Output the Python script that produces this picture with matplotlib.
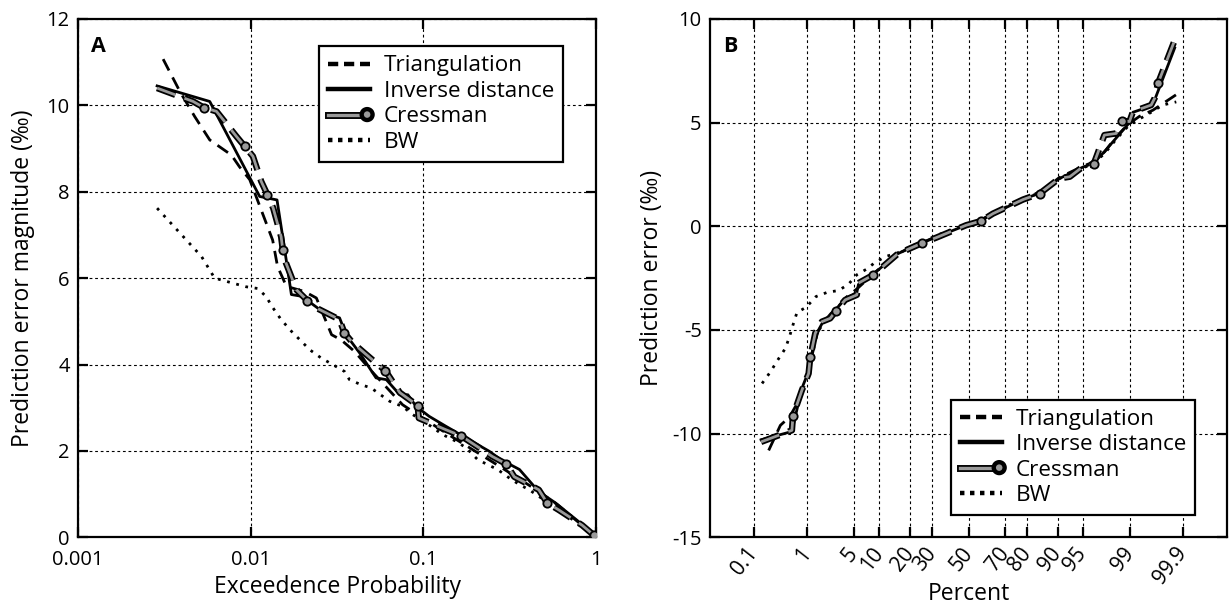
import math

import matplotlib

matplotlib.use("Agg")
import matplotlib.pyplot as plt
import matplotlib.patheffects as pe
import numpy as np
from matplotlib.legend_handler import HandlerLine2DCompound
from matplotlib.lines import Line2D
from matplotlib.ticker import FixedLocator, NullLocator, FixedFormatter

plt.rcParams["font.family"] = ["Open Sans", "DejaVu Sans"]
plt.rcParams["axes.unicode_minus"] = False

# ---- panel A: error magnitude vs exceedence probability ----
A_TRI_P = [0.00311, 0.00389, 0.00474, 0.00579, 0.00773, 0.0086, 0.00987, 0.0115, 0.0134,
           0.0143, 0.0161, 0.0205, 0.024, 0.0294, 0.0334, 0.04, 0.05, 0.0757, 0.1, 0.15,
           0.25, 0.3, 0.45, 0.6, 0.97]
A_TRI_Y = [11.07, 10.32, 9.74, 9.2, 8.85, 8.58, 8.28, 7.58, 6.88, 6.27, 5.81, 5.69, 5.54,
           4.69, 4.57, 4.3, 3.85, 3.07, 2.75, 2.3, 1.75, 1.55, 1.1, 0.75, 0.05]

A_IDW_P = [0.00287, 0.00579, 0.01127, 0.0142, 0.01573, 0.0172, 0.0197, 0.0210, 0.0268,
           0.0327, 0.0342, 0.038, 0.0427, 0.0532, 0.061, 0.073, 0.0813, 0.0908, 0.108,
           0.135, 0.184, 0.241, 0.28, 0.36, 0.465, 0.58, 0.93, 0.97]
A_IDW_Y = [10.45, 10.09, 7.89, 7.81, 6.66, 5.62, 5.58, 5.50, 5.19, 5.08, 4.88, 4.54, 4.27,
           3.69, 3.65, 3.30, 3.30, 3.03, 2.80, 2.57, 2.26, 1.99, 1.80, 1.57, 1.06, 0.80,
           0.14, 0.05]

A_CRE_P = [0.00287, 0.00464, 0.00535, 0.00634, 0.00827, 0.00923, 0.0103, 0.0115, 0.0125,
           0.0135, 0.0150, 0.01535, 0.016, 0.0184, 0.0213, 0.024, 0.0327, 0.0349, 0.039,
           0.052, 0.0602, 0.073, 0.0927, 0.094, 0.135, 0.165, 0.251, 0.301, 0.336, 0.466,
           0.520, 0.61, 0.83, 0.97]
A_CRE_Y = [10.40, 10.09, 9.95, 9.86, 9.28, 9.05, 8.82, 8.24, 7.93, 7.62, 6.96, 6.64, 6.35,
           5.73, 5.48, 5.31, 5.04, 4.73, 4.5, 4.07, 3.86, 3.35, 3.05, 2.76, 2.49, 2.35,
           1.87, 1.70, 1.40, 1.10, 0.80, 0.63, 0.28, 0.05]
A_CRE_MARK = [2, 5, 8, 11, 14, 17, 20, 22, 25, 27, 30, 33]

A_BW_P = [0.00287, 0.00519, 0.00618, 0.0094, 0.0110, 0.0123, 0.0133, 0.0150, 0.0172,
          0.0220, 0.0256, 0.0298, 0.0349, 0.0373, 0.0437, 0.0497, 0.0637, 0.0757, 0.0868,
          0.1107, 0.129, 0.155, 0.177, 0.206, 0.236, 0.269, 0.315, 0.36, 0.41, 0.465,
          0.6, 0.8, 0.97]
A_BW_Y = [7.62, 6.5, 6.0, 5.80, 5.76, 5.57, 5.34, 5.04, 4.77, 4.34, 4.15, 4.0, 3.84, 3.65,
          3.53, 3.46, 3.15, 3.03, 2.84, 2.57, 2.38, 2.22, 2.07, 1.80, 1.68, 1.57, 1.37,
          1.22, 1.10, 0.95, 0.65, 0.3, 0.05]

# ---- panel B: signed error on a normal probability scale (percent) ----
B_TICKS = [0.1, 1, 5, 10, 20, 30, 50, 70, 80, 90, 95, 99, 99.9]

B_TRI_P = [0.202, 0.34, 0.5, 0.7, 1.0, 1.2, 1.5, 2.0, 2.4, 3.0, 4.0, 5.5, 8.5, 15, 20,
           25, 32, 48.6, 57, 64, 78, 85, 90.4, 95, 96.4, 97.5, 98.3, 98.9, 99.3, 99.6,
           99.86]
B_TRI_Y = [-10.81, -9.60, -9.2, -8.5, -7.4, -6.3, -5.1, -4.5, -4.2, -3.9, -3.4, -3.0,
           -2.3, -1.35, -1.05, -0.8, -0.5, 0.1, 0.3, 0.62, 1.32, 1.62, 2.35, 2.9, 3.1,
           3.6, 4.3, 4.9, 5.3, 5.6, 6.35]

B_IDW_P = [0.142, 0.55, 0.83, 1.07, 1.37, 1.75, 2.33, 2.82, 3.80, 5.40, 5.67, 8.57, 15.08,
           19.74, 25.2, 32.06, 48.6, 57.3, 63.7, 78.35, 84.7, 90.42, 94.98, 96.41, 97.47,
           98.97, 99.10, 99.57, 99.63, 99.849]
B_IDW_Y = [-10.3, -9.9, -7.8, -7.0, -5.3, -4.7, -4.4, -4.0, -3.5, -3.2, -2.8, -2.3, -1.35,
           -1.05, -0.8, -0.52, 0.05, 0.28, 0.6, 1.3, 1.6, 2.3, 2.85, 3.05, 3.6, 5.0, 5.5,
           5.8, 6.1, 8.6]

B_CRE_P = [0.142, 0.554, 0.578, 0.829, 1.072, 1.14, 1.373, 1.747, 2.33, 2.82, 3.80, 5.40,
           5.67, 8.57, 15.08, 19.74, 25.2, 32.06, 48.6, 57.3, 63.7, 78.35, 84.7, 90.42,
           92.74, 94.98, 96.41, 97.47, 98.32, 98.64, 98.97, 99.10, 99.57, 99.63, 99.68,
           99.849]
B_CRE_Y = [-10.40, -9.84, -9.15, -7.90, -7.10, -6.32, -5.16, -4.60, -4.44, -4.08, -3.55,
           -3.31, -2.74, -2.34, -1.37, -1.08, -0.81, -0.55, 0.05, 0.26, 0.61, 1.29, 1.58,
           2.31, 2.39, 2.87, 3.00, 4.40, 4.48, 5.10, 5.05, 5.53, 5.85, 6.18, 6.90, 8.97]
B_CRE_MARK = [2, 5, 9, 13, 16, 19, 22, 26, 29, 34]

B_BW_P = [0.149, 0.219, 0.303, 0.421, 0.497, 0.578, 0.679, 0.98, 1.408, 2.128, 3.07, 4.22,
          5.40, 7.17, 8.95, 11.78, 15.08, 19.74, 25.2, 32.06, 48.6, 57.3, 63.7, 78.35,
          84.7, 90.42, 94.98, 96.41, 97.47, 98.32, 98.97, 99.57, 99.74, 99.86]
B_BW_Y = [-7.58, -7.02, -6.45, -5.89, -5.35, -4.76, -4.16, -3.90, -3.39, -3.18, -3.10,
          -2.79, -2.34, -2.06, -1.74, -1.45, -1.3, -1.0, -0.75, -0.45, 0.1, 0.3, 0.65,
          1.35, 1.65, 2.3, 2.8, 3.05, 3.5, 4.2, 4.9, 5.5, 5.85, 6.0]

LABELS = ["Triangulation", "Inverse distance", "Cressman", "BW"]
CRESS_GRAY = "#9a9a9a"
FS = 14.5      # tick labels
FS_LAB = 16.5  # axis labels
FS_LEG = 16.2  # legend

_erfc = np.vectorize(math.erfc, otypes=[float])


def norm_cdf(z):
    return 0.5 * _erfc(-np.asarray(z, float) / math.sqrt(2.0))


def norm_ppf(p):
    """Inverse normal CDF by bisection (no scipy here)."""
    p = np.clip(np.asarray(p, float), 1e-12, 1 - 1e-12)
    lo = np.full(p.shape, -9.0)
    hi = np.full(p.shape, 9.0)
    for _ in range(60):
        mid = 0.5 * (lo + hi)
        below = norm_cdf(mid) < p
        lo = np.where(below, mid, lo)
        hi = np.where(below, hi, mid)
    return 0.5 * (lo + hi)


def pct_fwd(x):
    return norm_ppf(np.asarray(x, float) / 100.0)


def pct_inv(z):
    return norm_cdf(z) * 100.0


class HandlerBarDot(HandlerLine2DCompound):
    # bar on the left, marker at the right end (as in the original legend)
    def get_xdata(self, legend, xdescent, ydescent, width, height, fontsize):
        xdata = np.array([-xdescent, -xdescent + width * 0.7])
        xmark = np.array([-xdescent + width * 0.93])
        return xdata, xmark


def cress_effects():
    return [pe.Stroke(linewidth=4.6, foreground="k"), pe.Normal()]


def draw_series(ax, tri, idw, cre, cre_mark, bw):
    ax.plot(*bw, color="k", lw=2.0, linestyle=(0, (1, 2.4)), zorder=3)
    ax.plot(*tri, color="k", lw=2.0, linestyle=(0, (4.6, 2.8)), zorder=3)
    ax.plot(*idw, color="k", lw=2.0, zorder=3)
    ax.plot(*cre, color=CRESS_GRAY, lw=2.0, linestyle=(0, (7, 3.5)),
            path_effects=cress_effects(), zorder=4)
    ax.plot(*cre, linestyle="none", marker="o", markevery=cre_mark, markersize=6,
            markerfacecolor=CRESS_GRAY, markeredgecolor="k", markeredgewidth=1.3, zorder=5)


def style_axes(ax, xpad):
    for s in ax.spines.values():
        s.set_linewidth(1.6)
    ax.tick_params(which="major", direction="in", length=7, width=1.6,
                   top=True, right=True, labelsize=FS, pad=6)
    ax.tick_params(axis="x", pad=xpad)
    ax.tick_params(which="minor", length=0)
    ax.grid(True, color="k", lw=0.8, linestyle=(0, (2.5, 2.5)))
    ax.set_axisbelow(True)


def add_legend(ax, **kw):
    handles = [
        Line2D([], [], color="k", lw=3.2, linestyle=(0, (2.3, 1.3))),
        Line2D([], [], color="k", lw=3.2),
        Line2D([], [], color=CRESS_GRAY, lw=2.4,
               path_effects=[pe.Stroke(linewidth=5.0, foreground="k"), pe.Normal()],
               marker="o", markersize=6, markerfacecolor=CRESS_GRAY,
               markeredgecolor="k", markeredgewidth=1.3),
        Line2D([], [], color="k", lw=3.2, linestyle=(0, (1, 1.25))),
    ]
    leg = ax.legend(handles, LABELS, fontsize=FS_LEG, frameon=True, fancybox=False,
                    edgecolor="k", framealpha=1, handlelength=1.85, handletextpad=0.6,
                    labelspacing=0.2, borderpad=0.4, borderaxespad=0,
                    handler_map={handles[2]: HandlerBarDot()}, **kw)
    leg.get_frame().set_linewidth(1.6)
    return leg


fig = plt.figure(figsize=(12.29, 6.08), dpi=100)
ax_a = fig.add_axes([0.0635, 0.1163, 0.4215, 0.8525])
ax_b = fig.add_axes([0.5777, 0.1163, 0.4207, 0.8525])

# panel A
draw_series(ax_a, (A_TRI_P, A_TRI_Y), (A_IDW_P, A_IDW_Y), (A_CRE_P, A_CRE_Y), A_CRE_MARK,
            (A_BW_P, A_BW_Y))
ax_a.set_xscale("log")
ax_a.set_xlim(0.001, 1)
ax_a.set_ylim(0, 12)
ax_a.xaxis.set_major_locator(FixedLocator([0.001, 0.01, 0.1, 1]))
ax_a.xaxis.set_major_formatter(FixedFormatter(["0.001", "0.01", "0.1", "1"]))
ax_a.xaxis.set_minor_locator(NullLocator())
ax_a.set_yticks(range(0, 13, 2))
style_axes(ax_a, xpad=9)
ax_a.set_xlabel("Exceedence Probability", fontsize=FS_LAB, labelpad=4)
ax_a.set_ylabel("Prediction error magnitude (‰)", fontsize=FS_LAB, labelpad=8)
ax_a.text(0.025, 0.967, "A", transform=ax_a.transAxes, fontsize=FS + 1, fontweight="bold",
          va="top", ha="left")
add_legend(ax_a, loc="upper right", bbox_to_anchor=(0.936, 0.947))

# panel B
ax_b.set_xscale("function", functions=(pct_fwd, pct_inv))
draw_series(ax_b, (B_TRI_P, B_TRI_Y), (B_IDW_P, B_IDW_Y), (B_CRE_P, B_CRE_Y), B_CRE_MARK,
            (B_BW_P, B_BW_Y))
ax_b.set_xlim(0.01, 99.99)
ax_b.set_ylim(-15, 10)
ax_b.xaxis.set_major_locator(FixedLocator(B_TICKS))
ax_b.xaxis.set_major_formatter(FixedFormatter([f"{t:g}" for t in B_TICKS]))
ax_b.xaxis.set_minor_locator(NullLocator())
ax_b.set_yticks(range(-15, 11, 5))
style_axes(ax_b, xpad=9)
plt.setp(ax_b.get_xticklabels(), rotation=52, rotation_mode="anchor", ha="right",
         va="center", fontsize=FS + 0.5)
ax_b.set_xlabel("Percent", fontsize=FS_LAB, labelpad=-5)
ax_b.set_ylabel("Prediction error (‰)", fontsize=FS_LAB, labelpad=6)
ax_b.text(0.025, 0.967, "B", transform=ax_b.transAxes, fontsize=FS + 1, fontweight="bold",
          va="top", ha="left")
add_legend(ax_b, loc="lower right", bbox_to_anchor=(0.938, 0.043))

fig.savefig("out.png", dpi=100)
